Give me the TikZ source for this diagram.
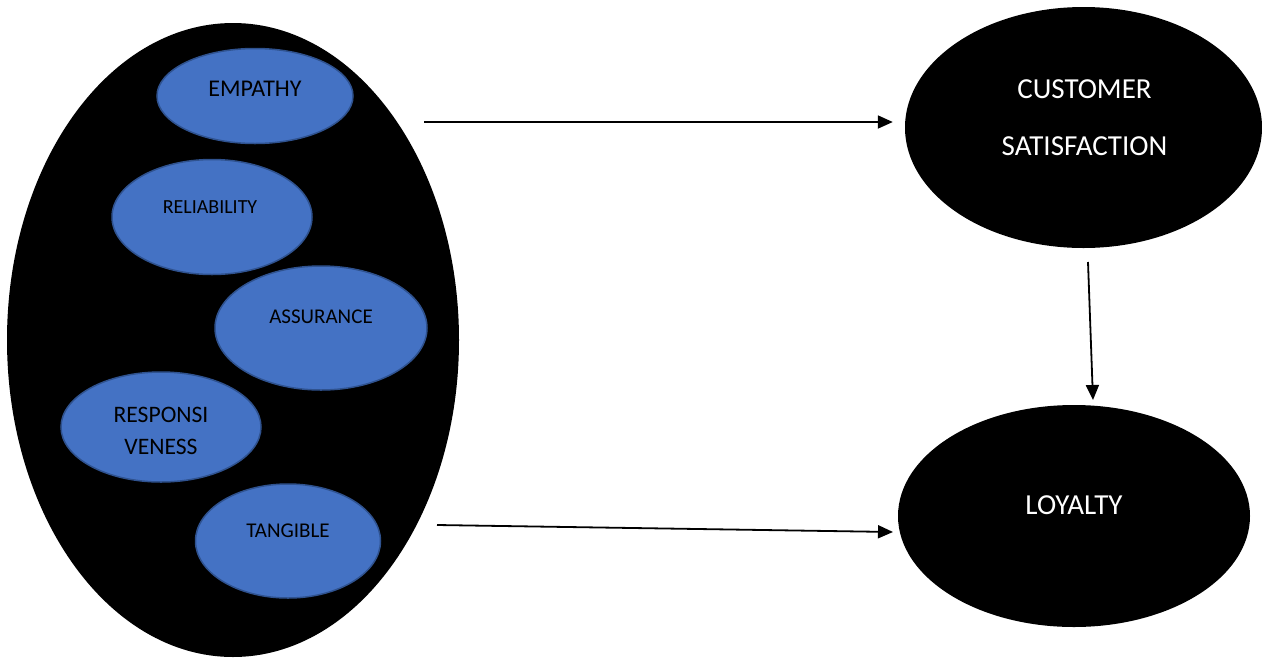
\documentclass[tikz,border=0pt]{standalone}
\usepackage{fontspec}
\setmainfont{Carlito}
\usetikzlibrary{shapes.geometric, arrows.meta, positioning}
\definecolor{dimBlue}{HTML}{4472C4}
\definecolor{dimEdge}{HTML}{2F528F}

\begin{document}
\begin{tikzpicture}[x=1pt, y=-1pt,
    dim/.style={ellipse, fill=dimBlue, draw=dimEdge, line width=1.5pt, inner sep=0pt},
    blob/.style={ellipse, fill=black, inner sep=0pt},
    lbl/.style={text=black, align=center, inner sep=0pt},
    wlbl/.style={text=white, align=center, inner sep=0pt},
    arr/.style={-{Triangle[length=15pt, width=13pt]}, line width=1.8pt}]
    \useasboundingbox (0,0) rectangle (1262,657);

    % service quality dimensions
    \node[blob, minimum width=452pt, minimum height=634pt] (qual) at (233,340) {};
    \node[dim, minimum width=196pt, minimum height=95pt] (emp) at (255,96) {};
    \node[dim, minimum width=200pt, minimum height=115pt] (rel) at (212,217) {};
    \node[dim, minimum width=212pt, minimum height=124pt] (ass) at (321,328) {};
    \node[dim, minimum width=200pt, minimum height=110pt] (resp) at (161,427) {};
    \node[dim, minimum width=185pt, minimum height=114pt] (tang) at (288,541) {};

    \node[lbl, font=\fontsize{24}{28}\selectfont] (empT) at ([yshift=7pt]emp.center) {EMPATHY};
    \node[lbl, font=\fontsize{20}{24}\selectfont] (relT) at ([xshift=-2pt, yshift=10pt]rel.center) {RELIABILITY};
    \node[lbl, font=\fontsize{21}{25}\selectfont] (assT) at ([yshift=11pt]ass.center) {ASSURANCE};
    \node[lbl, font=\fontsize{23.6}{32}\selectfont] (respT) at ([yshift=-4pt]resp.center) {RESPONSI\\VENESS};
    \node[lbl, font=\fontsize{21}{25}\selectfont] (tangT) at ([yshift=10pt]tang.center) {TANGIBLE};

    % outcomes
    \node[blob, minimum width=357pt, minimum height=241pt] (cs) at (1083.5,127.5) {};
    \node[blob, minimum width=352pt, minimum height=222pt] (loy) at (1074,516) {};
    \node[wlbl, font=\fontsize{29}{57}\selectfont] (csT) at ([xshift=1pt, yshift=9.5pt]cs.center) {CUSTOMER\\SATISFACTION};
    \node[wlbl, font=\fontsize{29}{34}\selectfont] (loyT) at ([yshift=11pt]loy.center) {LOYALTY};

    % links
    \coordinate (a1) at (424,122);
    \coordinate (b1) at (437,525);
    \coordinate (b2) at (893,532);
    \coordinate (c1) at (1088,262);
    \coordinate (c2) at (1093,400);
    \draw[arr, shorten >=12pt] (a1) -- (a1 -| cs.west);
    \draw[arr] (b1) -- (b2);
    \draw[arr] (c1) -- (c2);
\end{tikzpicture}
\end{document}
